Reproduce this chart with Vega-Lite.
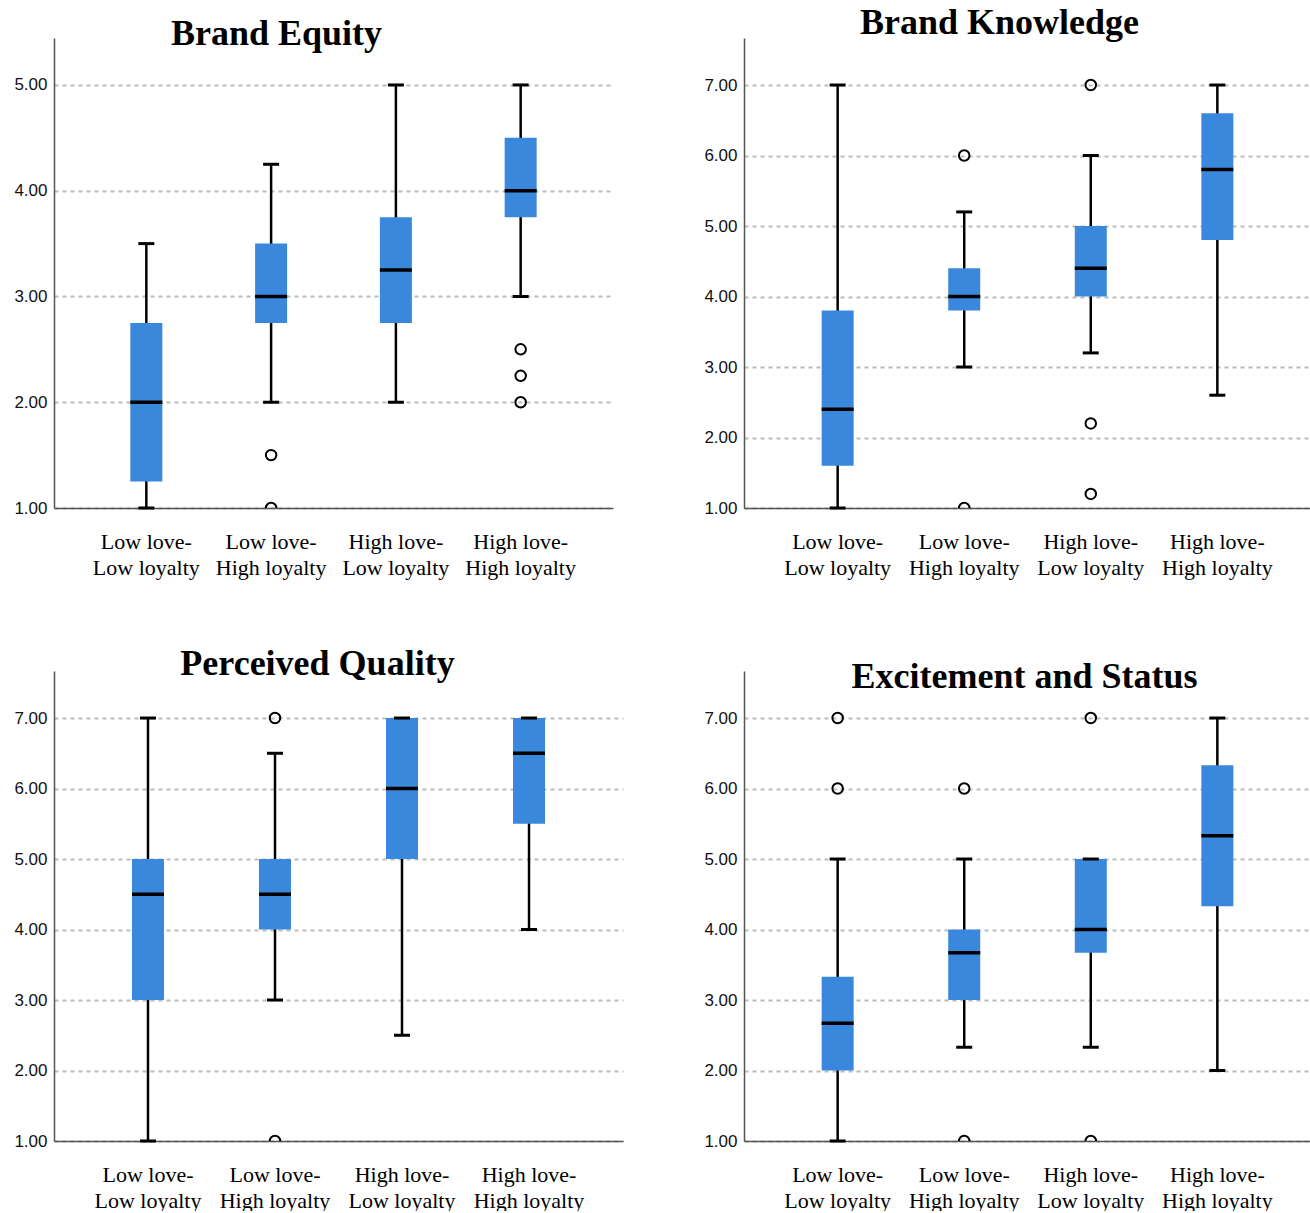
{
  "$schema": "https://vega.github.io/schema/vega-lite/v6.json",
  "padding": {"left": 13, "top": 5, "right": 0, "bottom": 0},
  "autosize": {"type": "pad"},
  "background": "white",
  "config": {
    "view": {"stroke": null},
    "title": {"font": "Liberation Serif", "fontSize": 36, "fontWeight": "bold", "color": "black", "anchor": "middle", "frame": "group", "baseline": "alphabetic"},
    "axisX": {"labelFont": "Liberation Serif", "labelFontSize": 22, "labelColor": "black", "labelLineHeight": 26, "labelPadding": 23, "labelAngle": 0, "ticks": false, "tickSize": 0, "domainColor": "#555", "domainWidth": 1.5, "grid": false, "labelExpr": "split(datum.label, '|')", "title": null},
    "axisY": {"labelFont": "Liberation Sans", "labelFontSize": 17, "labelColor": "#111", "labelPadding": 7, "ticks": false, "tickSize": 0, "domainColor": "#555", "domainWidth": 1.5, "grid": true, "gridDash": [4, 4], "gridColor": "#bbb", "gridWidth": 2, "format": ".2f"}
  },
  "datasets": {
    "box": [
      {"p": "BE", "g": "Low love-|Low loyalty", "lo": 1.0, "q1": 1.25, "med": 2.0, "q3": 2.75, "hi": 3.5},
      {"p": "BE", "g": "Low love-|High loyalty", "lo": 2.0, "q1": 2.75, "med": 3.0, "q3": 3.5, "hi": 4.25},
      {"p": "BE", "g": "High love-|Low loyalty", "lo": 2.0, "q1": 2.75, "med": 3.25, "q3": 3.75, "hi": 5.0},
      {"p": "BE", "g": "High love-|High loyalty", "lo": 3.0, "q1": 3.75, "med": 4.0, "q3": 4.5, "hi": 5.0},
      {"p": "BK", "g": "Low love-|Low loyalty", "lo": 1.0, "q1": 1.6, "med": 2.4, "q3": 3.8, "hi": 7.0},
      {"p": "BK", "g": "Low love-|High loyalty", "lo": 3.0, "q1": 3.8, "med": 4.0, "q3": 4.4, "hi": 5.2},
      {"p": "BK", "g": "High love-|Low loyalty", "lo": 3.2, "q1": 4.0, "med": 4.4, "q3": 5.0, "hi": 6.0},
      {"p": "BK", "g": "High love-|High loyalty", "lo": 2.6, "q1": 4.8, "med": 5.8, "q3": 6.6, "hi": 7.0},
      {"p": "PQ", "g": "Low love-|Low loyalty", "lo": 1.0, "q1": 3.0, "med": 4.5, "q3": 5.0, "hi": 7.0},
      {"p": "PQ", "g": "Low love-|High loyalty", "lo": 3.0, "q1": 4.0, "med": 4.5, "q3": 5.0, "hi": 6.5},
      {"p": "PQ", "g": "High love-|Low loyalty", "lo": 2.5, "q1": 5.0, "med": 6.0, "q3": 7.0, "hi": 7.0},
      {"p": "PQ", "g": "High love-|High loyalty", "lo": 4.0, "q1": 5.5, "med": 6.5, "q3": 7.0, "hi": 7.0},
      {"p": "ES", "g": "Low love-|Low loyalty", "lo": 1.0, "q1": 2.0, "med": 2.67, "q3": 3.33, "hi": 5.0},
      {"p": "ES", "g": "Low love-|High loyalty", "lo": 2.33, "q1": 3.0, "med": 3.67, "q3": 4.0, "hi": 5.0},
      {"p": "ES", "g": "High love-|Low loyalty", "lo": 2.33, "q1": 3.67, "med": 4.0, "q3": 5.0, "hi": 5.0},
      {"p": "ES", "g": "High love-|High loyalty", "lo": 2.0, "q1": 4.33, "med": 5.33, "q3": 6.33, "hi": 7.0}
    ],
    "out": [
      {"p": "BE", "g": "Low love-|High loyalty", "v": 1.5},
      {"p": "BE", "g": "Low love-|High loyalty", "v": 1.0},
      {"p": "BE", "g": "High love-|High loyalty", "v": 2.5},
      {"p": "BE", "g": "High love-|High loyalty", "v": 2.25},
      {"p": "BE", "g": "High love-|High loyalty", "v": 2.0},
      {"p": "BK", "g": "Low love-|High loyalty", "v": 6.0},
      {"p": "BK", "g": "Low love-|High loyalty", "v": 1.0},
      {"p": "BK", "g": "High love-|Low loyalty", "v": 7.0},
      {"p": "BK", "g": "High love-|Low loyalty", "v": 2.2},
      {"p": "BK", "g": "High love-|Low loyalty", "v": 1.2},
      {"p": "PQ", "g": "Low love-|High loyalty", "v": 7.0},
      {"p": "PQ", "g": "Low love-|High loyalty", "v": 1.0},
      {"p": "ES", "g": "Low love-|Low loyalty", "v": 7.0},
      {"p": "ES", "g": "Low love-|Low loyalty", "v": 6.0},
      {"p": "ES", "g": "Low love-|High loyalty", "v": 6.0},
      {"p": "ES", "g": "Low love-|High loyalty", "v": 1.0},
      {"p": "ES", "g": "High love-|Low loyalty", "v": 7.0},
      {"p": "ES", "g": "High love-|Low loyalty", "v": 1.0}
    ]
  },
  "columns": 2,
  "spacing": {"row": 163, "column": 121},
  "bounds": "flush",
  "concat": [
    {
      "width": 559, "height": 470,
      "title": {"text": "Brand Equity", "offset": -15, "dx": -57},
      "layer": [
        {"data": {"name": "box"}, "transform": [{"filter": "datum.p === 'BE'"}], "mark": {"type": "rule", "strokeWidth": 2.5, "color": "black"},
         "encoding": {"x": {"field": "g", "type": "nominal", "title": null, "scale": {"domain": ["Low love-|Low loyalty", "Low love-|High loyalty", "High love-|Low loyalty", "High love-|High loyalty"], "paddingInner": 0, "paddingOuter": 0.24}},
                      "y": {"field": "lo", "type": "quantitative", "title": null, "scale": {"domain": [1, 5.444], "nice": false, "zero": false}, "axis": {"values": [1, 2, 3, 4, 5]}}, "y2": {"field": "hi"}}},
        {"data": {"name": "box"}, "transform": [{"filter": "datum.p === 'BE'"}], "mark": {"type": "bar", "size": 32, "color": "#3a88dc"},
         "encoding": {"x": {"field": "g", "type": "nominal", "title": null}, "y": {"field": "q1", "type": "quantitative", "title": null}, "y2": {"field": "q3"}}},
        {"data": {"name": "box"}, "transform": [{"filter": "datum.p === 'BE'"}], "mark": {"type": "tick", "orient": "horizontal", "size": 32, "thickness": 3.5, "color": "black", "opacity": 1},
         "encoding": {"x": {"field": "g", "type": "nominal", "title": null}, "y": {"field": "med", "type": "quantitative", "title": null}}},
        {"data": {"name": "box"}, "transform": [{"filter": "datum.p === 'BE'"}], "mark": {"type": "tick", "orient": "horizontal", "size": 16, "thickness": 3, "color": "black", "opacity": 1},
         "encoding": {"x": {"field": "g", "type": "nominal", "title": null}, "y": {"field": "lo", "type": "quantitative", "title": null}}},
        {"data": {"name": "box"}, "transform": [{"filter": "datum.p === 'BE'"}], "mark": {"type": "tick", "orient": "horizontal", "size": 16, "thickness": 3, "color": "black", "opacity": 1},
         "encoding": {"x": {"field": "g", "type": "nominal", "title": null}, "y": {"field": "hi", "type": "quantitative", "title": null}}},
        {"data": {"name": "out"}, "transform": [{"filter": "datum.p === 'BE'"}], "mark": {"type": "point", "shape": "circle", "filled": false, "size": 110, "strokeWidth": 2, "color": "black", "opacity": 1, "clip": true},
         "encoding": {"x": {"field": "g", "type": "nominal", "title": null}, "y": {"field": "v", "type": "quantitative", "title": null}}}
      ]
    },
    {
      "width": 567, "height": 470,
      "title": {"text": "Brand Knowledge", "offset": -4, "dx": -28},
      "layer": [
        {"data": {"name": "box"}, "transform": [{"filter": "datum.p === 'BK'"}], "mark": {"type": "rule", "strokeWidth": 2.5, "color": "black"},
         "encoding": {"x": {"field": "g", "type": "nominal", "title": null, "scale": {"domain": ["Low love-|Low loyalty", "Low love-|High loyalty", "High love-|Low loyalty", "High love-|High loyalty"], "paddingInner": 0, "paddingOuter": 0.24}},
                      "y": {"field": "lo", "type": "quantitative", "title": null, "scale": {"domain": [1, 7.667], "nice": false, "zero": false}, "axis": {"values": [1, 2, 3, 4, 5, 6, 7]}}, "y2": {"field": "hi"}}},
        {"data": {"name": "box"}, "transform": [{"filter": "datum.p === 'BK'"}], "mark": {"type": "bar", "size": 32, "color": "#3a88dc"},
         "encoding": {"x": {"field": "g", "type": "nominal", "title": null}, "y": {"field": "q1", "type": "quantitative", "title": null}, "y2": {"field": "q3"}}},
        {"data": {"name": "box"}, "transform": [{"filter": "datum.p === 'BK'"}], "mark": {"type": "tick", "orient": "horizontal", "size": 32, "thickness": 3.5, "color": "black", "opacity": 1},
         "encoding": {"x": {"field": "g", "type": "nominal", "title": null}, "y": {"field": "med", "type": "quantitative", "title": null}}},
        {"data": {"name": "box"}, "transform": [{"filter": "datum.p === 'BK'"}], "mark": {"type": "tick", "orient": "horizontal", "size": 16, "thickness": 3, "color": "black", "opacity": 1},
         "encoding": {"x": {"field": "g", "type": "nominal", "title": null}, "y": {"field": "lo", "type": "quantitative", "title": null}}},
        {"data": {"name": "box"}, "transform": [{"filter": "datum.p === 'BK'"}], "mark": {"type": "tick", "orient": "horizontal", "size": 16, "thickness": 3, "color": "black", "opacity": 1},
         "encoding": {"x": {"field": "g", "type": "nominal", "title": null}, "y": {"field": "hi", "type": "quantitative", "title": null}}},
        {"data": {"name": "out"}, "transform": [{"filter": "datum.p === 'BK'"}], "mark": {"type": "point", "shape": "circle", "filled": false, "size": 110, "strokeWidth": 2, "color": "black", "opacity": 1, "clip": true},
         "encoding": {"x": {"field": "g", "type": "nominal", "title": null}, "y": {"field": "v", "type": "quantitative", "title": null}}}
      ]
    },
    {
      "width": 569, "height": 470,
      "title": {"text": "Perceived Quality", "offset": -12, "dx": -21},
      "layer": [
        {"data": {"name": "box"}, "transform": [{"filter": "datum.p === 'PQ'"}], "mark": {"type": "rule", "strokeWidth": 2.5, "color": "black"},
         "encoding": {"x": {"field": "g", "type": "nominal", "title": null, "scale": {"domain": ["Low love-|Low loyalty", "Low love-|High loyalty", "High love-|Low loyalty", "High love-|High loyalty"], "paddingInner": 0, "paddingOuter": 0.24}},
                      "y": {"field": "lo", "type": "quantitative", "title": null, "scale": {"domain": [1, 7.667], "nice": false, "zero": false}, "axis": {"values": [1, 2, 3, 4, 5, 6, 7]}}, "y2": {"field": "hi"}}},
        {"data": {"name": "box"}, "transform": [{"filter": "datum.p === 'PQ'"}], "mark": {"type": "bar", "size": 32, "color": "#3a88dc"},
         "encoding": {"x": {"field": "g", "type": "nominal", "title": null}, "y": {"field": "q1", "type": "quantitative", "title": null}, "y2": {"field": "q3"}}},
        {"data": {"name": "box"}, "transform": [{"filter": "datum.p === 'PQ'"}], "mark": {"type": "tick", "orient": "horizontal", "size": 32, "thickness": 3.5, "color": "black", "opacity": 1},
         "encoding": {"x": {"field": "g", "type": "nominal", "title": null}, "y": {"field": "med", "type": "quantitative", "title": null}}},
        {"data": {"name": "box"}, "transform": [{"filter": "datum.p === 'PQ'"}], "mark": {"type": "tick", "orient": "horizontal", "size": 16, "thickness": 3, "color": "black", "opacity": 1},
         "encoding": {"x": {"field": "g", "type": "nominal", "title": null}, "y": {"field": "lo", "type": "quantitative", "title": null}}},
        {"data": {"name": "box"}, "transform": [{"filter": "datum.p === 'PQ'"}], "mark": {"type": "tick", "orient": "horizontal", "size": 16, "thickness": 3, "color": "black", "opacity": 1},
         "encoding": {"x": {"field": "g", "type": "nominal", "title": null}, "y": {"field": "hi", "type": "quantitative", "title": null}}},
        {"data": {"name": "out"}, "transform": [{"filter": "datum.p === 'PQ'"}], "mark": {"type": "point", "shape": "circle", "filled": false, "size": 110, "strokeWidth": 2, "color": "black", "opacity": 1, "clip": true},
         "encoding": {"x": {"field": "g", "type": "nominal", "title": null}, "y": {"field": "v", "type": "quantitative", "title": null}}}
      ]
    },
    {
      "width": 567, "height": 470,
      "title": {"text": "Excitement and Status", "offset": -25, "dx": -3},
      "layer": [
        {"data": {"name": "box"}, "transform": [{"filter": "datum.p === 'ES'"}], "mark": {"type": "rule", "strokeWidth": 2.5, "color": "black"},
         "encoding": {"x": {"field": "g", "type": "nominal", "title": null, "scale": {"domain": ["Low love-|Low loyalty", "Low love-|High loyalty", "High love-|Low loyalty", "High love-|High loyalty"], "paddingInner": 0, "paddingOuter": 0.24}},
                      "y": {"field": "lo", "type": "quantitative", "title": null, "scale": {"domain": [1, 7.667], "nice": false, "zero": false}, "axis": {"values": [1, 2, 3, 4, 5, 6, 7]}}, "y2": {"field": "hi"}}},
        {"data": {"name": "box"}, "transform": [{"filter": "datum.p === 'ES'"}], "mark": {"type": "bar", "size": 32, "color": "#3a88dc"},
         "encoding": {"x": {"field": "g", "type": "nominal", "title": null}, "y": {"field": "q1", "type": "quantitative", "title": null}, "y2": {"field": "q3"}}},
        {"data": {"name": "box"}, "transform": [{"filter": "datum.p === 'ES'"}], "mark": {"type": "tick", "orient": "horizontal", "size": 32, "thickness": 3.5, "color": "black", "opacity": 1},
         "encoding": {"x": {"field": "g", "type": "nominal", "title": null}, "y": {"field": "med", "type": "quantitative", "title": null}}},
        {"data": {"name": "box"}, "transform": [{"filter": "datum.p === 'ES'"}], "mark": {"type": "tick", "orient": "horizontal", "size": 16, "thickness": 3, "color": "black", "opacity": 1},
         "encoding": {"x": {"field": "g", "type": "nominal", "title": null}, "y": {"field": "lo", "type": "quantitative", "title": null}}},
        {"data": {"name": "box"}, "transform": [{"filter": "datum.p === 'ES'"}], "mark": {"type": "tick", "orient": "horizontal", "size": 16, "thickness": 3, "color": "black", "opacity": 1},
         "encoding": {"x": {"field": "g", "type": "nominal", "title": null}, "y": {"field": "hi", "type": "quantitative", "title": null}}},
        {"data": {"name": "out"}, "transform": [{"filter": "datum.p === 'ES'"}], "mark": {"type": "point", "shape": "circle", "filled": false, "size": 110, "strokeWidth": 2, "color": "black", "opacity": 1, "clip": true},
         "encoding": {"x": {"field": "g", "type": "nominal", "title": null}, "y": {"field": "v", "type": "quantitative", "title": null}}}
      ]
    }
  ]
}
